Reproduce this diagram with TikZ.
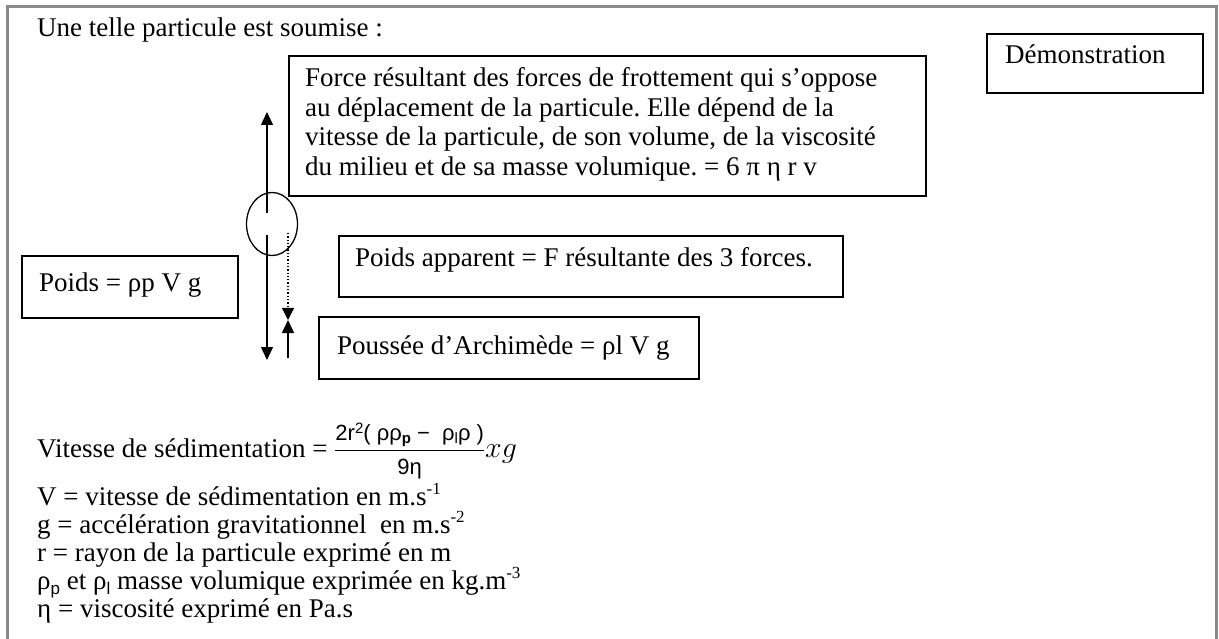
\documentclass[tikz,border=0pt]{standalone}
\usepackage{fontspec}
\usepackage{amsmath}
\usepackage{graphicx}
\setmainfont{Liberation Serif}
\newfontfamily\sansf{Liberation Sans}
\usetikzlibrary{arrows.meta,shapes.geometric}
\frenchspacing
\newcommand{\bigtxt}{\fontsize{27}{29.5}\selectfont}
\newcommand{\expo}[1]{\raisebox{11pt}{\fontsize{17}{17}\selectfont #1}}
\newcommand{\subsf}[1]{\raisebox{-5pt}{\sansf\fontsize{17}{17}\selectfont #1}}
\newcommand{\numsz}{\sansf\fontsize{22}{22}\selectfont}
\newcommand{\smallsz}[1]{{\fontsize{15}{15}\selectfont #1}}
\definecolor{framegray}{RGB}{138,138,138}
\begin{document}
\begin{tikzpicture}[x=1pt,y=-1pt,
  box/.style={draw, line width=1.6pt, inner sep=0pt, anchor=north west},
  lbl/.style={font=\bigtxt, inner sep=0pt, anchor=base west},
  para/.style={inner sep=0pt, anchor=base west},
  force/.style={line width=1.5pt, -{Triangle[length=13pt,width=12pt]}},
  dotforce/.style={line width=1.3pt, dotted, -{Triangle[length=12pt,width=12pt]}},
]
\useasboundingbox (0,0) rectangle (1219,639);
\fill[white] (0,0) rectangle (1219,639);
% outer frame
\draw[framegray, line width=3pt] (7,645) -- (7,7) -- (1216,7) -- (1216,645);

\node[lbl] (titre) at (37,37) {Une telle particule est soumise :};

% boxes
\node[box, minimum width=216pt, minimum height=59pt] (demo) at (986,33) {};
\node[lbl] (demoT) at (1005,64) {Démonstration};

\node[box, minimum width=637pt, minimum height=140pt] (frott) at (288,55) {};
\node[para] (frottT) at (305,87)
 {\begin{minipage}[t]{615pt}\bigtxt\raggedright
  Force résultant des forces de frottement qui s’oppose\\
  au déplacement de la particule. Elle dépend de la\\
  vitesse de la particule, de son volume, de la viscosité\\
  du milieu et de sa masse volumique. = 6 π η r v\par
  \end{minipage}};

\node[box, minimum width=504pt, minimum height=61pt] (apparent) at (338,235) {};
\node[lbl] (apparentT) at (355,267) {Poids apparent = F résultante des 3 forces.};

\node[box, minimum width=216pt, minimum height=62pt] (poids) at (21,255) {};
\node[lbl] (poidsT) at (39,292) {Poids = ρp V g};

\node[box, minimum width=380pt, minimum height=62pt] (archi) at (318,316) {};
\node[lbl] (archiT) at (337,354) {Poussée d’Archimède = ρl V g};

% particle and forces
\node[draw, ellipse, line width=1.3pt, minimum width=51pt, minimum height=63pt, inner sep=0pt] (part) at (272,224) {};
\coordinate (upS) at (267,213);
\coordinate (upE) at (267,112);
\coordinate (dnS) at (267,235);
\coordinate (dnE) at (267,360);
\coordinate (dotS) at (288,233);
\coordinate (meet) at (288,320);
\coordinate (arS) at (288,358);
\draw[force] (upS) -- (upE);
\draw[force] (dnS) -- (dnE);
\draw[dotforce] (dotS) -- (meet);
\draw[force] (arS) -- (meet);

% formula
\node[lbl] (vit) at (37,457) {Vitesse de sédimentation = $\displaystyle\frac{\mbox{\numsz 2r\raisebox{7pt}{\smallsz{2}}( ρρ\raisebox{-3pt}{\smallsz{\bfseries p}} − \ ρ\raisebox{-3pt}{\smallsz{l}}ρ )}}{\mbox{\numsz 9η}}$\scalebox{1.2}{$xg$}};

\node[lbl] (l1) at (37,505) {V = vitesse de sédimentation en m.s\expo{-1}};
\node[lbl] (l2) at (37,533) {g = accélération gravitationnel\ \ en m.s\expo{-2}};
\node[lbl] (l3) at (37,561) {r = rayon de la particule exprimé en m};
\node[lbl] (l4) at (37,589) {ρ\subsf{p} et ρ\subsf{l} masse volumique exprimée en kg.m\expo{-3}};
\node[lbl] (l5) at (37,617) {η = viscosité exprimé en Pa.s};
\end{tikzpicture}
\end{document}
